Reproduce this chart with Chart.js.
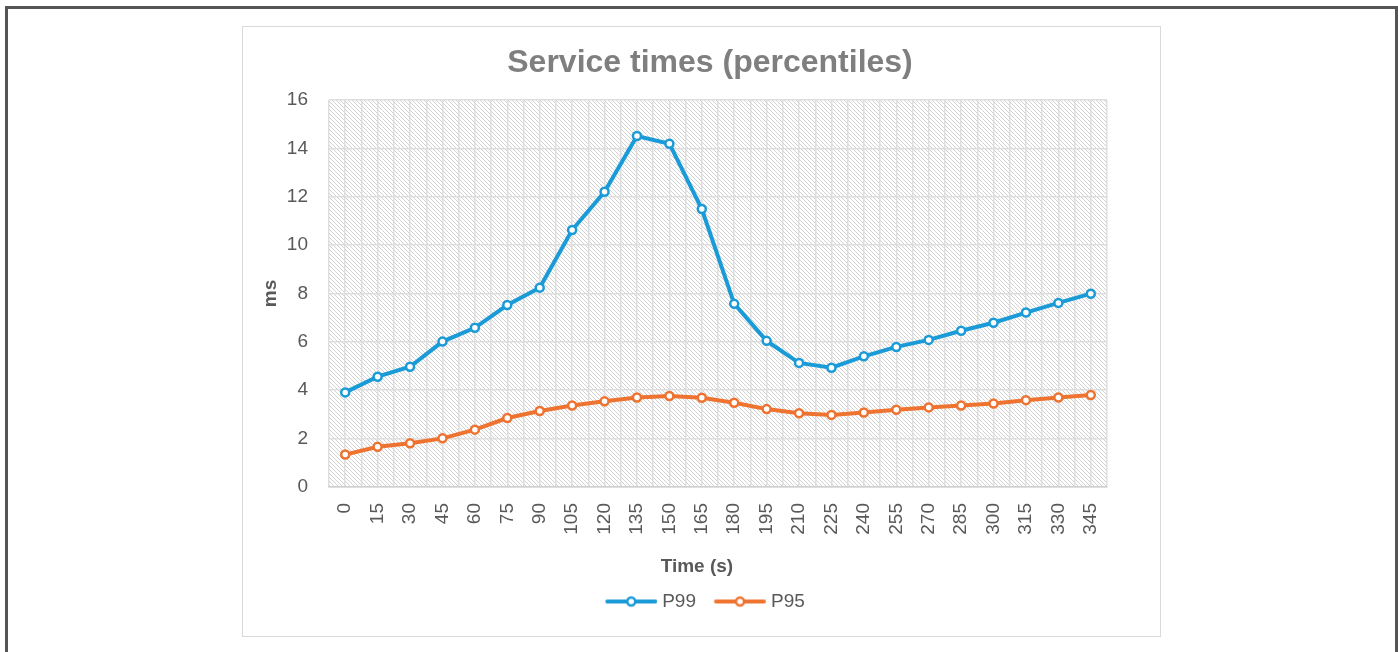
<!DOCTYPE html>
<html>
<head>
<meta charset="utf-8">
<script src="https://cdn.jsdelivr.net/npm/chart.js@4.4.1/dist/chart.umd.min.js"></script>
<style>
  html, body { margin: 0; padding: 0; background: #fff; width: 1398px; height: 652px; overflow: hidden; }
  #frame { position: absolute; left: 5px; top: 6px; width: 1393px; height: 700px; border: 3px solid #555; box-sizing: border-box; }
  #box { position: absolute; left: 242px; top: 26px; width: 919px; height: 611px; border: 1px solid #d9d9d9; box-sizing: border-box; background: #fff; }
  #chart { display: block; }
</style>
</head>
<body>
<div id="frame"></div>
<div id="box"><canvas id="chart" width="917" height="609" style="width:917px;height:609px"></canvas></div>
<script>
// Time (s) on the x axis
const times = [0, 15, 30, 45, 60, 75, 90, 105, 120, 135, 150, 165,
  180, 195, 210, 225, 240, 255, 270, 285, 300, 315, 330, 345];

// Service times in ms
const p99 = [3.91, 4.56, 4.97, 6.01, 6.58, 7.52, 8.24, 10.62, 12.2, 14.51, 14.19, 11.49,
  7.57, 6.04, 5.13, 4.93, 5.4, 5.79, 6.08, 6.46, 6.79, 7.21, 7.61, 7.99];
const p95 = [1.34, 1.66, 1.81, 2.01, 2.37, 2.85, 3.14, 3.37, 3.54, 3.7, 3.76, 3.69,
  3.48, 3.22, 3.05, 2.98, 3.08, 3.19, 3.29, 3.37, 3.45, 3.59, 3.7, 3.8];

const seriesNames = ["P99", "P95"];
const seriesColors = ["#1a9bd7", "#ee7330"];
const yMin = 0, yMax = 16, yStep = 2;

const textColor = "#595959";
Chart.defaults.font.family = "'Liberation Sans', Arial, sans-serif";

// hatched plot background
function makeHatch(ctx) {
  const t = document.createElement("canvas");
  t.width = 4; t.height = 4;
  const c = t.getContext("2d");
  c.fillStyle = "#fff";
  c.fillRect(0, 0, 4, 4);
  c.fillStyle = "#d2d2d2";
  for (let i = 0; i < 4; i++) c.fillRect(i, i, 1, 1);
  return ctx.createPattern(t, "repeat");
}

const hatchBg = {
  id: "hatchBg",
  // title and legend sit a bit off the canvas centre in the original
  afterLayout(chart) {
    chart.titleBlock.left += 30; chart.titleBlock.right += 30;
    chart.legend.left += 21; chart.legend.right += 21;
  },
  beforeDraw(chart) {
    const { ctx, chartArea: a } = chart;
    ctx.save();
    ctx.fillStyle = makeHatch(ctx);
    ctx.fillRect(a.left, a.top, a.right - a.left, a.bottom - a.top);
    ctx.restore();
  }
};

// legend marker: line with hollow circle
function legendMark(color) {
  const c = document.createElement("canvas");
  c.width = 80; c.height = 14;
  const g = c.getContext("2d");
  g.strokeStyle = color;
  g.lineCap = "round";
  g.lineWidth = 4;
  g.beginPath(); g.moveTo(22.25, 7); g.lineTo(70.25, 7); g.stroke();
  g.beginPath(); g.arc(46.25, 7, 4, 0, Math.PI * 2);
  g.fillStyle = "#fff"; g.fill();
  g.lineWidth = 2.5; g.stroke();
  return c;
}
const marks = seriesColors.map(legendMark);

const makeSet = (name, vals, color) => ({
  label: name,
  data: times.map((t, i) => ({ x: t, y: vals[i] })),
  borderColor: color,
  backgroundColor: "#fff",
  borderWidth: 4,
  pointRadius: 4,
  pointBorderWidth: 2.5,
  pointBackgroundColor: "#fff",
  pointBorderColor: color,
  tension: 0
});

new Chart(document.getElementById("chart"), {
  type: "line",
  data: {
    datasets: [
      makeSet(seriesNames[0], p99, seriesColors[0]),
      makeSet(seriesNames[1], p95, seriesColors[1])
    ]
  },
  options: {
    responsive: false,
    animation: false,
    layout: { padding: { left: 10, right: 53, top: 0, bottom: 15 } },
    plugins: {
      title: {
        display: true,
        text: "Service times (percentiles)",
        color: "#7f7f7f",
        font: { size: 32, weight: "bold" },
        padding: { top: 17, bottom: 17.5 }
      },
      legend: {
        position: "bottom",
        labels: {
          usePointStyle: true,
          pointStyleWidth: 55.5,
          boxHeight: 12,
          padding: 10,
          color: textColor,
          font: { size: 19 },
          generateLabels(chart) {
            const items = Chart.defaults.plugins.legend.labels.generateLabels(chart);
            items.forEach((it, i) => { it.pointStyle = marks[i]; });
            return items;
          }
        }
      },
      tooltip: { enabled: false }
    },
    scales: {
      x: {
        type: "linear",
        min: times[0] - 7.5,
        max: times[times.length - 1] + 7.5,
        afterFit(s) { s.height = 95; },
        ticks: {
          stepSize: 7.5,
          autoSkip: false,
          maxRotation: 90,
          minRotation: 90,
          padding: 16,
          color: textColor,
          font: { size: 19 },
          callback: v => (times.includes(v) ? String(v) : "")
        },
        grid: { color: "#dedede", lineWidth: 1.5, drawTicks: false },
        border: { color: "#d0d0d0", width: 1.5 },
        title: {
          display: true,
          // trailing spaces pull the centred title a little left, as in the original
          text: "Time (s)        ",
          color: textColor,
          font: { size: 19, weight: "bold" },
          padding: { top: 0, bottom: 4 }
        }
      },
      y: {
        min: yMin,
        max: yMax,
        afterFit(s) { s.width = 76; },
        ticks: { stepSize: yStep, padding: 21, color: textColor, font: { size: 19 } },
        grid: { color: "#dedede", lineWidth: 1.5, drawTicks: false },
        border: { display: false },
        title: {
          display: true,
          text: "ms",
          color: textColor,
          font: { size: 19, weight: "bold" },
          padding: { top: 6, bottom: 0 }
        }
      }
    }
  },
  plugins: [hatchBg]
});
</script>
</body>
</html>
